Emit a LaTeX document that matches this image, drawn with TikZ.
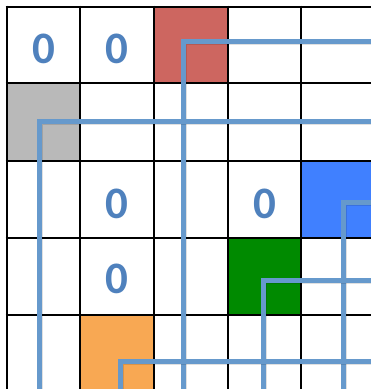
\documentclass[tikz,border=0pt]{standalone}
\usepackage{fontspec}
\setmainfont{Carlito}
\begin{document}
\begin{tikzpicture}[x=1pt,y=-1pt,
  gridline/.style={line width=2.6pt,black},
  zero/.style={font=\fontsize{45}{45}\selectfont\bfseries,text=zeroblue,inner sep=0pt},
  pathline/.style={line width=5pt,draw=lineblue},
  pathshadow/.style={line width=5pt,draw=black,opacity=0.12},
]
\definecolor{zeroblue}{HTML}{4F81BD}
\definecolor{lineblue}{HTML}{6699CC}
\definecolor{cred}{HTML}{CD6660}
\definecolor{cgray}{HTML}{B9B9B9}
\definecolor{cblue}{HTML}{4080FF}
\definecolor{cgreen}{HTML}{008A00}
\definecolor{corange}{HTML}{F8A853}
\useasboundingbox (0,0) rectangle (371,389);
\clip (0,0) rectangle (371,389);
% coloured cells
\fill[cred]    (154,7)   rectangle (228,83);
\fill[cgray]   (7,83)    rectangle (80,161);
\fill[cblue]   (301,161) rectangle (375,238);
\fill[cgreen]  (228,238) rectangle (301,315);
\fill[corange] (80,315)  rectangle (154,392);
% grid
\foreach \x in {7,80,154,228,301,375} \draw[gridline] (\x,5.7) -- (\x,395);
\foreach \y in {7,83,161,238,315,392} \draw[gridline] (5.7,\y) -- (380,\y);
% zeros
\node[zero] (z00) at (43.5,49) {0};
\node[zero] (z01) at (117,49) {0};
\node[zero] (z21) at (117,204) {0};
\node[zero] (z23) at (264.5,204) {0};
\node[zero] (z31) at (117,279) {0};
% corner coordinates of the L-shaped paths
\coordinate (cr) at (183,41);
\coordinate (cg) at (39,121);
\coordinate (cb) at (343,202);
\coordinate (cn) at (263,280);
\coordinate (co) at (120,361);
\foreach \c in {cr,cg,cb,cn,co} {
  \draw[pathshadow] ([xshift=1.2pt,yshift=-1.2pt]\c |- 0,400) -- ([xshift=1.2pt,yshift=-1.2pt]\c) -- ([xshift=1.2pt,yshift=-1.2pt]\c -| 400,0);
  \draw[pathline] (\c |- 0,400) -- (\c) -- (\c -| 400,0);
}
\end{tikzpicture}
\end{document}
